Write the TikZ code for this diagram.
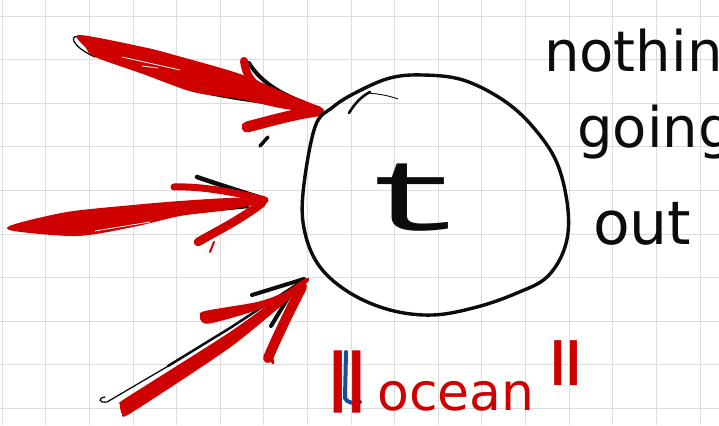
\documentclass[tikz,border=0pt]{standalone}
\usepackage{fontspec}
\newfontfamily\hnd{DejaVu Sans}
\newfontfamily\tmono{Liberation Mono}
\definecolor{penred}{RGB}{206,0,0}
\definecolor{penblue}{RGB}{25,75,160}
\definecolor{penblack}{RGB}{12,12,12}
\definecolor{gridgray}{RGB}{220,220,220}
\newcommand{\qmark}{\raisebox{-0.46em}[0.27em][0pt]{"}}
\tikzset{
  gridline/.style={draw=gridgray, line width=0.9pt},
  blk/.style={draw=penblack, line cap=round, line join=round},
  rd/.style={draw=penred, line cap=round, line join=round},
  rdfill/.style={fill=penred},
  handtext/.style={font=\hnd\fontsize{56}{56}\selectfont, text=penblack, inner sep=0pt},
  redtext/.style={font=\hnd\fontsize{52}{52}\selectfont, text=penred, inner sep=0pt},
}
\begin{document}
\begin{tikzpicture}[x=1pt,y=-1pt]
\useasboundingbox (0,0) rectangle (719,425);
\clip (0,0) rectangle (719,425);
\fill[white] (0,0) rectangle (719,425);
% grid
\foreach \i in {0,...,16} \draw[gridline] ({2.1+43.62*\i},0) -- ({2.1+43.62*\i},425);
\foreach \j in {0,...,9} \draw[gridline] (0,{16+43.6*\j}) -- (719,{16+43.6*\j});

% ---------- arrow 1 (top) ----------
\coordinate (tip1) at (322,110);
\draw[blk, line width=1.3pt] (82,38) .. controls (68,32) and (70,46) .. (95,57);
\draw[blk, line width=2pt] (200,92) .. controls (240,101) and (280,105) .. (tip1);
\draw[blk, line width=4pt] (249,63) .. controls (258,78) and (275,92) .. (305,103);
\draw[blk, line width=3.5pt] (260,146) -- (268,137);
\fill[rdfill] plot[smooth cycle, tension=0.5] coordinates {(79,35) (143,47) (178,56) (240,74) (290,95) (322,108) (318,113) (280,108) (240,99) (193,92) (143,74) (95,57) (86,48)};
\draw[white, line width=0.8pt] (122,57) -- (180,70);
\draw[white, line width=0.8pt] (142,66) -- (158,68);
\draw[rd, line width=8pt] (244,61) .. controls (246,75) and (252,84) .. (262,88);
\draw[rd, line width=11pt] (247,127) .. controls (270,121) and (295,114) .. (317,111);

% ---------- arrow 2 (middle) ----------
\coordinate (tip2) at (265,200);
\draw[blk, line width=4.5pt] (197,177) .. controls (220,185) and (240,191) .. (258,197);
\draw[blk, line width=2.5pt] (217,210) -- (248,207);
\fill[rdfill] plot[smooth cycle, tension=0.5] coordinates {(12,225) (67,212) (133,205) (180,201) (230,198) (265,199) (263,203) (220,211) (180,216) (133,227) (77,236) (14,231)};
\draw[rd, line width=1pt] (35,231) -- (65,235);
\draw[white, line width=0.8pt] (95,231) -- (150,222);
\draw[rd, line width=7pt] (174,187) .. controls (200,186) and (235,192) .. (tip2);
\draw[rd, line width=8.5pt] (262,203) .. controls (240,220) and (215,232) .. (198,242);
\draw[rd, line width=2pt] (214,242) -- (210,252);

% ---------- arrow 3 (bottom) ----------
\coordinate (tip3) at (305,279);
\draw[blk, line width=1.3pt] (105,397) .. controls (98,398) and (98,403) .. (107,402) -- (170,365);
\draw[blk, line width=2.5pt] (168,366) -- (230,328) -- (tip3);
\draw[blk, line width=4pt] (252,295) -- (304,279);
\draw[blk, line width=4pt] (271,326) -- (288,298);
\fill[rdfill] plot[smooth cycle, tension=0.4] coordinates {(120,404) (126,398) (230,332) (301,281) (305,285) (232,346) (131,413) (122,414)};
\fill[rdfill] plot[smooth cycle, tension=0.5] coordinates {(200,316) (205,311) (257,302) (283,293) (305,283) (300,290) (257,310) (212,323) (202,322)};
\draw[rd, line width=10pt] (302,287) .. controls (290,310) and (278,335) .. (268,358);
\draw[rd, line width=3pt] (271,355) -- (273,363);

% ---------- circle ----------
\coordinate (ctr) at (436,195);
\draw[blk, line width=3.4pt] plot[smooth cycle, tension=0.6] coordinates {(303,193) (315,127) (333,107) (357,92) (390,78) (423,75) (463,80) (503,100) (533,127) (557,163) (568,210) (565,247) (547,277) (517,293) (477,307) (433,315) (390,310) (350,293) (320,267) (305,233)};
\draw[blk, line width=2.6pt] (349,113) .. controls (355,103) and (362,96) .. (370,92);
\draw[blk, line width=0.9pt] (368,93) .. controls (380,94) and (390,96) .. (398,99);
\node[font=\tmono\fontsize{100}{100}\selectfont, text=penblack, inner sep=0pt, anchor=base, xscale=1.75] (tletter) at (414,230) {t};

% ---------- right text ----------
\node[handtext, anchor=base west] (nothing) at (544,72) {nothing};
\node[handtext, anchor=base west] (going) at (577,147) {going};
\node[handtext, anchor=base west, font=\hnd\fontsize{60}{60}\selectfont] (out) at (593,244) {out};

% ---------- ocean ----------
\draw[draw=penblue, line width=4pt, line cap=round] (346,352) -- (345,398) .. controls (347,403) and (354,404) .. (360,402);
\node[font=\hnd\fontsize{100}{100}\selectfont, text=penred, inner sep=0pt, anchor=north west, yscale=2.3] (oq) at (324,350) {\qmark};
\node[redtext, anchor=base west] (ocean) at (377,410) {ocean};
\node[font=\hnd\fontsize{85}{85}\selectfont, text=penred, inner sep=0pt, anchor=north west, yscale=1.95] (cq) at (546,340) {\qmark};
\end{tikzpicture}
\end{document}
